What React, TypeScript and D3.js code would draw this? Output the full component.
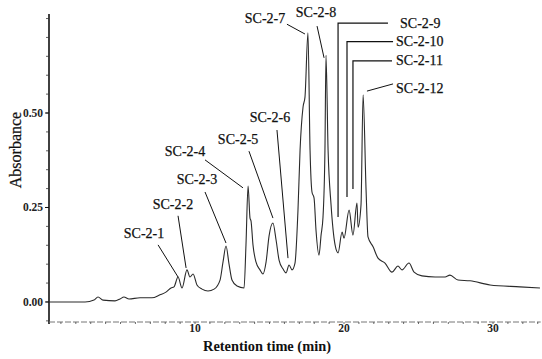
import React from 'react';
import * as d3 from 'd3';

// chromatogram trace (min, absorbance)
const retentionTimes = [
  0.2, 2.62, 3.22, 3.49, 3.83, 4.63, 4.97, 5.23, 5.57, 6.31, 7.11, 7.65, 8.05, 8.39, 8.59, 8.86,
  9.13, 9.46, 9.66, 9.87, 10.13, 10.47, 10.87, 11.28, 11.68, 11.88, 12.08, 12.28, 12.48, 12.82,
  13.29, 13.42, 13.56, 13.69, 13.76, 13.89, 14.09, 14.36, 14.56, 14.77, 14.97, 15.23, 15.44,
  15.64, 15.91, 16.11, 16.31, 16.51, 16.71, 16.91, 17.05, 17.25, 17.38, 17.58, 17.72, 17.85,
  17.99, 18.12, 18.32, 18.46, 18.59, 18.72, 18.79, 18.93, 19.13, 19.4, 19.6, 19.87, 20.0,
  20.34, 20.6, 20.87, 20.94, 21.14, 21.28, 21.48, 21.61, 21.95, 22.28, 22.75, 23.22, 23.62,
  23.89, 24.36, 24.7, 25.23, 26.11, 26.78, 27.11, 27.65, 28.46, 29.8, 31.81, 33.15,
];
const absorbance = [
  0.0, 0.0, 0.005, 0.013, 0.005, 0.003, 0.008, 0.013, 0.008, 0.011, 0.011, 0.019, 0.026, 0.037,
  0.04, 0.066, 0.037, 0.085, 0.066, 0.074, 0.045, 0.034, 0.029, 0.034, 0.058, 0.106, 0.148,
  0.101, 0.058, 0.042, 0.037, 0.151, 0.307, 0.222, 0.214, 0.151, 0.106, 0.085, 0.074, 0.106,
  0.175, 0.209, 0.164, 0.111, 0.087, 0.077, 0.098, 0.085, 0.103, 0.243, 0.402, 0.516, 0.542,
  0.712, 0.402, 0.291, 0.275, 0.19, 0.124, 0.177, 0.225, 0.402, 0.653, 0.402, 0.257, 0.151,
  0.13, 0.185, 0.169, 0.243, 0.177, 0.262, 0.198, 0.257, 0.548, 0.296, 0.172, 0.146, 0.116,
  0.103, 0.079, 0.095, 0.085, 0.103, 0.079, 0.069, 0.066, 0.066, 0.071, 0.058, 0.056, 0.045,
  0.04, 0.037,
];

const yTickValues = [0, 0.25, 0.5];
const yTickLabels = ['0.00', '0.25', '0.50'];
const xTickValues = [10, 20, 30];
const xTickLabels = ['10', '20', '30'];

// slanted leaders: label centre, then leader from -> to (data units)
const leaderLabels = ['SC-2-1', 'SC-2-2', 'SC-2-3', 'SC-2-4', 'SC-2-5', 'SC-2-6', 'SC-2-7', 'SC-2-8'];
const leaderText = [
  [6.58, 0.18], [8.52, 0.257], [10.13, 0.323], [9.33, 0.397],
  [12.89, 0.429], [15.03, 0.487], [14.7, 0.751], [18.12, 0.767],
];
const leaderFrom = [
  [7.52, 0.151], [8.86, 0.228], [10.67, 0.291], [10.67, 0.376],
  [13.62, 0.399], [15.5, 0.455], [16.17, 0.735], [18.19, 0.73],
];
const leaderTo = [
  [8.86, 0.066], [9.4, 0.09], [12.08, 0.156], [13.22, 0.302],
  [15.23, 0.222], [16.24, 0.116], [17.38, 0.709], [18.66, 0.646],
];

// right-hand labels with elbow brackets
const bracketLabels = ['SC-2-9', 'SC-2-10', 'SC-2-11'];
const bracketTextX = [23.76, 23.49, 23.49];
const bracketLevel = [0.738, 0.689, 0.638];
const bracketEnd = [22.95, 23.29, 23.22];
const bracketCorner = [19.6, 20.2, 20.6];
const bracketFoot = [0.225, 0.278, 0.299];

const lastLabel = 'SC-2-12';
const lastText = [23.49, 0.566];
const lastFrom = [23.29, 0.577];
const lastTo = [21.54, 0.558];

const W = 542;
const H = 359;
const FONT = '"Liberation Serif", "Times New Roman", serif';

export default function App() {
  const x = d3.scaleLinear().domain([0.2, 33.2]).range([49, 540.7]);
  const y = d3.scaleLinear().domain([-0.053, 0.762]).range([322, 14]);

  const pts = retentionTimes.map((t, i) => [t, absorbance[i]] as [number, number]);
  const line = d3
    .line<[number, number]>()
    .x(d => x(d[0]))
    .y(d => y(d[1]))
    .curve(d3.curveMonotoneX);

  const yMinor = d3.range(-0.05, 0.76, 0.05);
  const xMinor = d3.range(1, 34, 1);
  const axisY = y(-0.053);
  const labelStyle = { stroke: '#111', strokeWidth: 0.25 };

  return (
    <svg
      width={W}
      height={H}
      style={{ position: 'absolute', left: 0, top: 0, background: '#fff', fontFamily: FONT }}
    >
      {/* y axis */}
      <line x1={x(0.2)} x2={x(0.2)} y1={y(0.762)} y2={axisY + 2} stroke="#111" strokeWidth={1.6} />
      {yMinor.map(v => (
        <line key={v} x1={x(0.2) - 3} x2={x(0.2)} y1={y(v)} y2={y(v)} stroke="#333" strokeWidth={0.8} />
      ))}
      {yTickValues.map((v, i) => (
        <g key={v}>
          <line x1={x(0.2) - 4} x2={x(0.2)} y1={y(v)} y2={y(v)} stroke="#111" strokeWidth={1} />
          <text x={x(0.2) - 6} y={y(v)} textAnchor="end" dominantBaseline="central" fontSize={11.5} fontWeight="bold" fill="#222">
            {yTickLabels[i]}
          </text>
        </g>
      ))}
      <text
        transform={`translate(15,${(y(0.762) + axisY) / 2 - 18}) rotate(-90)`}
        textAnchor="middle"
        dominantBaseline="central"
        fontSize={16}
        fill="#111"
        style={labelStyle}
      >
        Absorbance
      </text>

      {/* x axis */}
      <line x1={x(0.2)} x2={x(33.2)} y1={axisY} y2={axisY} stroke="#777" strokeWidth={1} strokeDasharray="6 2" />
      {xMinor.map(t => (
        <line key={t} x1={x(t)} x2={x(t)} y1={axisY} y2={axisY + 2} stroke="#444" strokeWidth={0.8} />
      ))}
      {xTickValues.map((t, i) => (
        <text key={t} x={x(t)} y={axisY + 6} textAnchor="middle" dominantBaseline="central" fontSize={11.5} fontWeight="bold" fill="#222">
          {xTickLabels[i]}
        </text>
      ))}
      <text x={267} y={axisY + 24} textAnchor="middle" dominantBaseline="central" fontSize={14.4} fontWeight="bold" fill="#111">
        Retention time (min)
      </text>

      {/* trace */}
      <path d={line(pts) || ''} fill="none" stroke="#2a2a2a" strokeWidth={1.1} strokeLinejoin="round" />

      {/* slanted leaders */}
      {leaderLabels.map((lab, i) => (
        <g key={lab}>
          <line
            x1={x(leaderFrom[i][0])}
            y1={y(leaderFrom[i][1])}
            x2={x(leaderTo[i][0])}
            y2={y(leaderTo[i][1])}
            stroke="#111"
            strokeWidth={1}
          />
          <text
            x={x(leaderText[i][0])}
            y={y(leaderText[i][1])}
            textAnchor="middle"
            dominantBaseline="central"
            fontSize={14}
            fill="#111"
            style={labelStyle}
          >
            {lab}
          </text>
        </g>
      ))}

      {/* elbow brackets */}
      {bracketLabels.map((lab, i) => (
        <g key={lab}>
          <polyline
            points={`${x(bracketEnd[i])},${y(bracketLevel[i])} ${x(bracketCorner[i])},${y(bracketLevel[i])} ${x(bracketCorner[i])},${y(bracketFoot[i])}`}
            fill="none"
            stroke="#111"
            strokeWidth={1.2}
          />
          <text
            x={x(bracketTextX[i])}
            y={y(bracketLevel[i])}
            dominantBaseline="central"
            fontSize={14}
            fill="#111"
            style={labelStyle}
          >
            {lab}
          </text>
        </g>
      ))}

      <line x1={x(lastFrom[0])} y1={y(lastFrom[1])} x2={x(lastTo[0])} y2={y(lastTo[1])} stroke="#111" strokeWidth={1} />
      <text x={x(lastText[0])} y={y(lastText[1])} dominantBaseline="central" fontSize={14} fill="#111" style={labelStyle}>
        {lastLabel}
      </text>
    </svg>
  );
}
